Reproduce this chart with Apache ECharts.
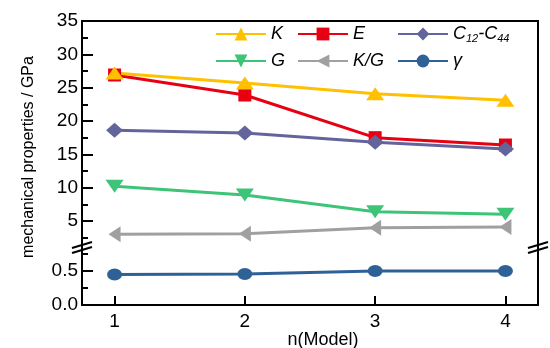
<!DOCTYPE html>
<html><head><meta charset="utf-8">
<script src="https://cdn.jsdelivr.net/npm/echarts@6/dist/echarts.min.js"></script>
<style>html,body{margin:0;padding:0;background:#fff}#c{width:550px;height:348px}</style>
</head><body><div id="c"></div>
<script>
// ---- data ----
const xValues = [1, 2, 3, 4];
const K = [27.2, 25.7, 24.1, 23.1];
const E = [26.9, 23.9, 17.5, 16.4];
const C12C44 = [18.6, 18.2, 16.8, 15.8];
const G = [10.2, 8.9, 6.4, 6.0];
const KG = [3.0, 3.1, 4.0, 4.1];
const gamma = [0.45, 0.455, 0.50, 0.50];
const upperMajor = [5, 10, 15, 20, 25, 30, 35];
const upperMinor = [2.5, 7.5, 12.5, 17.5, 22.5, 27.5, 32.5];
const lowerMajor = [0, 0.5];
const lowerMinor = [0.25, 0.75];
const xTicks = [1, 2, 3, 4];

const FONT = '"Liberation Sans", Arial, sans-serif';
const pts = arr => xValues.map((x, i) => [x, arr[i]]);
const ellipse = 'path://M-1,0a1,1 0 1,0 2,0a1,1 0 1,0 -2,0z';

const chart = echarts.init(document.getElementById('c'), null, {renderer: 'canvas'});
const axisLineStyle = {show: true, lineStyle: {color: '#000', width: 2}};
const LEFT = 82, RIGHT = 12, TOP = 21, BREAK = 247, BOTTOM = 305;
const upperMin = 35 - (BREAK - TOP) / 6.667;
const lowerMax = (BOTTOM - BREAK) / 68;

function lineSeries(name, data, color, symbol, size, rotate, yIdx, xIdx) {
  return {
    name, type: 'line', data: pts(data), xAxisIndex: xIdx, yAxisIndex: yIdx,
    symbol, symbolSize: size, symbolRotate: rotate || 0,
    showAllSymbol: true, animation: false,
    lineStyle: {color, width: 3}, itemStyle: {color, opacity: 1}
  };
}

const legendText = {fontFamily: FONT, fontSize: 18, fontStyle: 'italic', color: '#000', lineHeight: 20,
  rich: {
    i: {fontFamily: FONT, fontSize: 18, fontStyle: 'italic', color: '#000'},
    s: {fontFamily: FONT, fontSize: 11, color: '#000', verticalAlign: 'bottom', padding: [8, 0, 0, 0]},
    n: {fontFamily: FONT, fontSize: 18, color: '#000'}
  }};
const legendFmt = n => n === 'C12-C44' ? '{i|C}{s|12}{n|-}{i|C}{s|44}' : n;
function legendCol(left, names) {
  return {orient: 'vertical', left, top: 24, padding: 0, itemWidth: 50, itemHeight: 16, itemGap: 7,
    data: names, textStyle: legendText, formatter: legendFmt, selectedMode: false};
}

const option = {
  backgroundColor: '#fff',
  animation: false,
  grid: [
    {left: LEFT, right: RIGHT, top: TOP, height: BREAK - TOP},
    {left: LEFT, right: RIGHT, top: BREAK, height: BOTTOM - BREAK}
  ],
  legend: [
    legendCol(215, ['K', 'G']),
    legendCol(297, ['E', 'K/G']),
    legendCol(397, ['C12-C44', 'γ'])
  ],
  xAxis: [
    {type: 'value', gridIndex: 0, min: 0.75, max: 4.25, position: 'top',
      axisLine: axisLineStyle, axisTick: {show: false}, axisLabel: {show: false}, splitLine: {show: false}},
    {type: 'value', gridIndex: 1, min: 0.75, max: 4.25, position: 'bottom',
      axisLine: axisLineStyle,
      axisTick: {show: true, inside: true, length: 9, customValues: xTicks, lineStyle: {color: '#000', width: 2}},
      axisLabel: {show: true, customValues: xTicks, margin: 7, fontFamily: FONT, fontSize: 19, color: '#000'},
      splitLine: {show: false}}
  ],
  yAxis: [
    {type: 'value', gridIndex: 0, min: upperMin, max: 35, position: 'left',
      axisLine: axisLineStyle,
      axisTick: {show: true, inside: true, length: 11, customValues: upperMajor, lineStyle: {color: '#000', width: 2}},
      axisLabel: {show: true, customValues: upperMajor, margin: 4, fontFamily: FONT, fontSize: 19, color: '#000'},
      splitLine: {show: false}},
    {type: 'value', gridIndex: 0, min: upperMin, max: 35, position: 'left',
      axisLine: {show: false},
      axisTick: {show: true, inside: true, length: 6, customValues: upperMinor, lineStyle: {color: '#000', width: 2}},
      axisLabel: {show: false}, splitLine: {show: false}},
    {type: 'value', gridIndex: 0, min: upperMin, max: 35, position: 'right',
      axisLine: axisLineStyle, axisTick: {show: false}, axisLabel: {show: false}, splitLine: {show: false}},
    {type: 'value', gridIndex: 1, min: 0, max: lowerMax, position: 'left',
      axisLine: axisLineStyle,
      axisTick: {show: true, inside: true, length: 11, customValues: lowerMajor, lineStyle: {color: '#000', width: 2}},
      axisLabel: {show: true, customValues: lowerMajor, margin: 4, fontFamily: FONT, fontSize: 19, color: '#000',
        formatter: v => v.toFixed(1)},
      splitLine: {show: false}},
    {type: 'value', gridIndex: 1, min: 0, max: lowerMax, position: 'left',
      axisLine: {show: false},
      axisTick: {show: true, inside: true, length: 6, customValues: lowerMinor, lineStyle: {color: '#000', width: 2}},
      axisLabel: {show: false}, splitLine: {show: false}},
    {type: 'value', gridIndex: 1, min: 0, max: lowerMax, position: 'right',
      axisLine: axisLineStyle, axisTick: {show: false}, axisLabel: {show: false}, splitLine: {show: false}}
  ],
  series: [
    lineSeries('E', E, '#E60012', 'rect', 13, 0, 0, 0),
    lineSeries('K', K, '#FFC000', 'triangle', [18, 13], 0, 0, 0),
    lineSeries('C12-C44', C12C44, '#64649C', 'diamond', [17, 15], 0, 0, 0),
    lineSeries('G', G, '#3DC477', 'triangle', [18, 13], 180, 0, 0),
    lineSeries('K/G', KG, '#A0A0A0', 'triangle', [16, 12], 90, 0, 0),
    lineSeries('γ', gamma, '#2E6196', ellipse, [15, 12], 0, 3, 1)
  ],
  graphic: [
    {type: 'text', x: 29, y: 157, rotation: Math.PI / 2,
      style: {text: 'mechanical properties / GPa', fontFamily: FONT, fontSize: 16, fill: '#000',
        align: 'center', verticalAlign: 'middle'}},
    {type: 'text', x: 323, y: 340,
      style: {text: 'n(Model)', fontFamily: FONT, fontSize: 18, fill: '#000', align: 'center', verticalAlign: 'middle'}},
    // axis break marks
    ...[82, 538].map(x => ({type: 'group', x, y: BREAK, z: 100, children: [
      {type: 'polygon', shape: {points: [[-10, 1], [10, -5], [10, 0], [-10, 6]]}, style: {fill: '#fff'}},
      {type: 'line', shape: {x1: -10, y1: 1, x2: 10, y2: -5}, style: {stroke: '#000', lineWidth: 2}},
      {type: 'line', shape: {x1: -10, y1: 6, x2: 10, y2: 0}, style: {stroke: '#000', lineWidth: 2}}
    ]}))
  ]
};
chart.setOption(option);
</script></body></html>
